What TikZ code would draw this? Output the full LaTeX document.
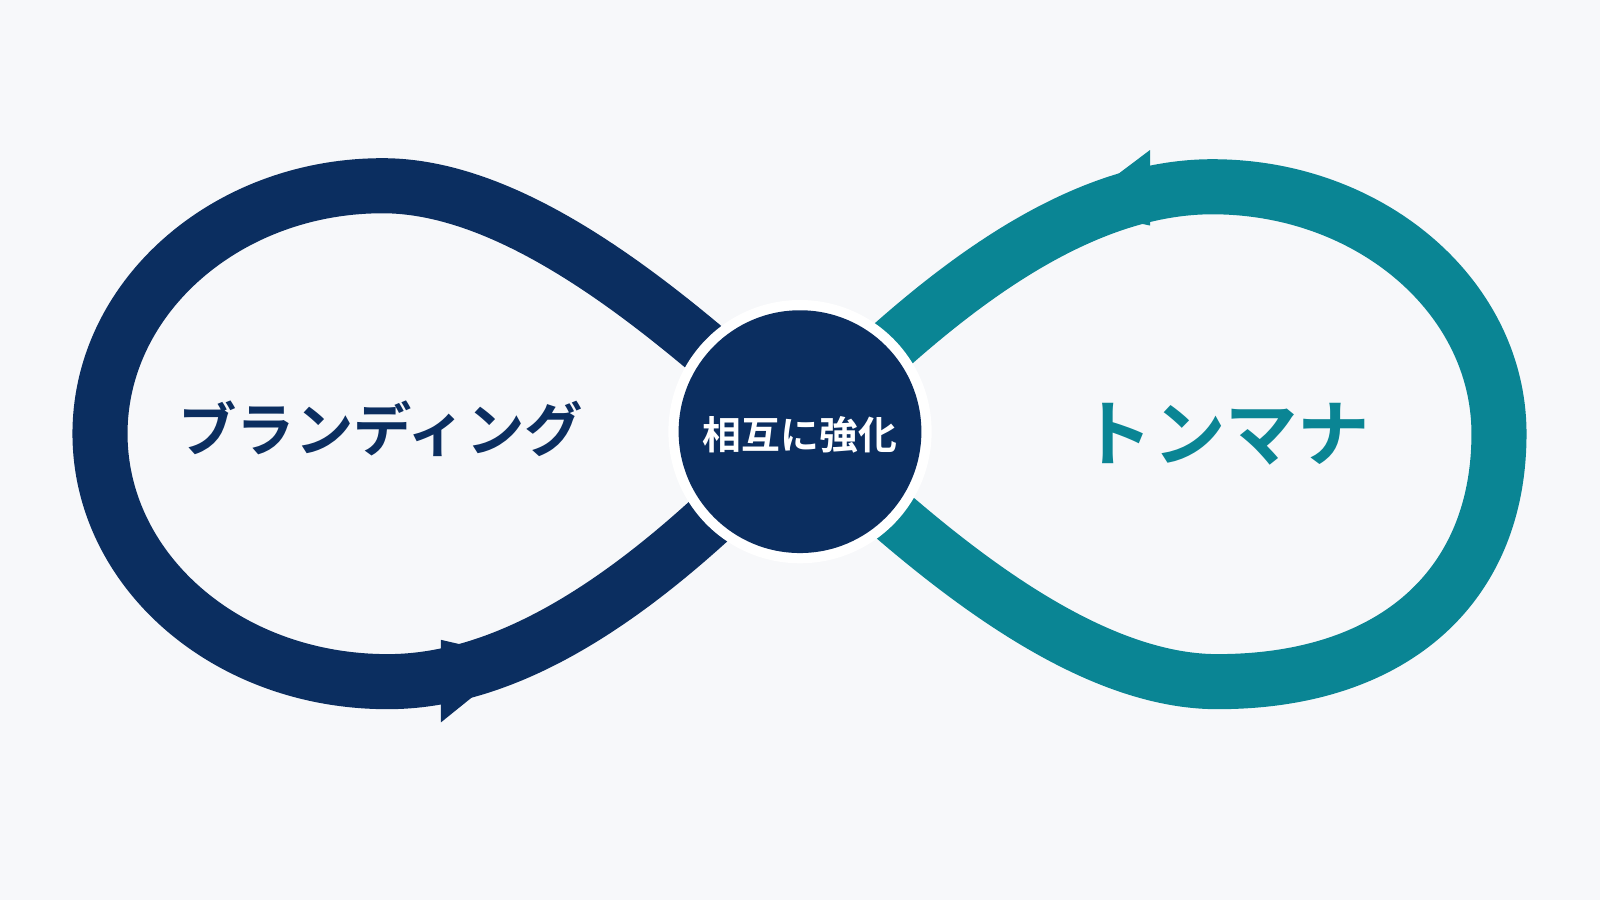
\documentclass[tikz,border=0pt]{standalone}
\usepackage{fontspec}
\newfontfamily\jp{Noto Sans CJK JP}[BoldFont={Noto Sans CJK JP Bold}]
\definecolor{navy}{HTML}{0B2E60}
\definecolor{tealc}{HTML}{0A8594}
\definecolor{bgc}{HTML}{F7F8FA}
\begin{document}
\begin{tikzpicture}[x=0.0102041cm,y=-0.0102041cm,
  band/.style={line width=0.551cm, line cap=butt},
  lbl/.style={inner sep=0pt, font=\jp\bfseries}]
\useasboundingbox[fill=bgc] (0,0) rectangle (1568,882);
\coordinate (C) at (784,423);
% left loop (navy)
\draw[band, navy] (C) .. controls (680,330) and (520,182) .. (375,182)
  .. controls (222,182) and (98,291) .. (98,425)
  .. controls (98,559) and (222,668) .. (380,668)
  .. controls (540,668) and (690,520) .. (C);
\fill[navy] (432,627) -- (510,645) -- (432,708) -- cycle;
% right loop (teal)
\draw[band, tealc] (C) .. controls (878,331) and (1028,183) .. (1188,183)
  .. controls (1343,183) and (1469,291) .. (1469,425)
  .. controls (1469,576) and (1364,668) .. (1193,668)
  .. controls (1048,668) and (888,521) .. (C);
\fill[tealc] (1127,147) -- (1050,205) -- (1127,221) -- cycle;
% centre
\fill[white] (C) circle[radius=129];
\node[circle, fill=navy, minimum size=2.4286cm, inner sep=0pt] (hub) at (C) {};
\node[lbl, text=white, font=\jp\bfseries\fontsize{11.05}{12}\selectfont] (hubtext) at (784,426) {相互に強化};
\node[lbl, text=navy, font=\jp\bfseries\fontsize{16.6}{18}\selectfont] (brand) at (373,420) {ブランディング};
\node[lbl, text=tealc, font=\jp\bfseries\fontsize{20.6}{22}\selectfont] (tone) at (1201,425.5) {トンマナ};
\end{tikzpicture}
\end{document}
